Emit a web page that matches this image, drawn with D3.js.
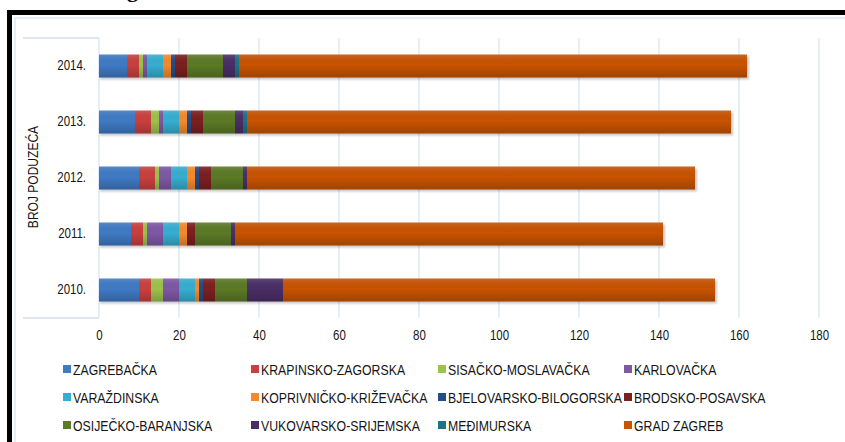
<!DOCTYPE html>
<html>
<head>
<meta charset="utf-8">
<script src="https://cdn.jsdelivr.net/npm/d3@7"></script>
<style>
  body { margin: 0; background: #fff; }
  text { font-family: "Liberation Sans", Arial, sans-serif; fill: #151515; }
</style>
</head>
<body>
<div id="chart"></div>
<script>
// years, bottom to top
const years = ["2010.", "2011.", "2012.", "2013.", "2014."];
const xTicks = [0, 20, 40, 60, 80, 100, 120, 140, 160, 180];

const seriesNames = ["ZAGREBAČKA", "KRAPINSKO-ZAGORSKA", "SISAČKO-MOSLAVAČKA", "KARLOVAČKA",
    "VARAŽDINSKA", "KOPRIVNIČKO-KRIŽEVAČKA", "BJELOVARSKO-BILOGORSKA", "BRODSKO-POSAVSKA",
    "OSIJEČKO-BARANJSKA", "VUKOVARSKO-SRIJEMSKA", "MEĐIMURSKA", "GRAD ZAGREB"];
const seriesColors = ["#3f7ac4", "#c9403e", "#9cc24b", "#7d58a6", "#36aed0", "#f58a2c",
    "#244c88", "#7c1f1f", "#5b7a26", "#4a2e66", "#1f7185", "#c85300"];

// values per series, in the order of years
const zagrebacka = [10, 8, 10, 9, 7];
const krapinsko = [3, 3, 4, 4, 3];
const sisacko = [3, 1, 1, 2, 1];
const karlovacka = [4, 4, 3, 1, 1];
const varazdinska = [4, 4, 4, 4, 4];
const koprivnicko = [1, 2, 2, 2, 2];
const bjelovarsko = [1, 0, 1, 1, 1];
const brodsko = [3, 2, 3, 3, 3];
const osijecko = [8, 9, 8, 8, 9];
const vukovarsko = [9, 1, 1, 2, 3];
const medimurska = [0, 0, 0, 1, 1];
const gradZagreb = [108, 107, 112, 121, 127];

const seriesValues = [zagrebacka, krapinsko, sisacko, karlovacka, varazdinska, koprivnicko,
    bjelovarsko, brodsko, osijecko, vukovarsko, medimurska, gradZagreb];

const width = 845, height = 442;
const narrow = 0.82; // no narrow font installed, squeeze text instead

const svg = d3.select("#chart").append("svg")
    .attr("width", width)
    .attr("height", height);

// table for the stack
const table = years.map((y, i) => {
    let row = { year: y };
    seriesNames.forEach((s, j) => row[s] = seriesValues[j][i]);
    return row;
});
const stacked = d3.stack().keys(seriesNames)(table);

const x = d3.scaleLinear().domain([0, 180]).range([99, 819]);
const y = d3.scaleBand().domain(years.slice().reverse()).range([38, 318])
    .paddingInner(0.59).paddingOuter(0.295);

// frame
svg.append("rect").attr("x", 15).attr("y", 18).attr("width", 900).attr("height", 500)
    .attr("fill", "none").attr("stroke", "#dde7f3").attr("stroke-width", 1.5);
svg.append("rect").attr("x", 7).attr("y", 10).attr("width", 840).attr("height", 5).attr("fill", "#000");
svg.append("rect").attr("x", 7).attr("y", 10).attr("width", 5).attr("height", 440).attr("fill", "#000");
svg.append("text").attr("x", 127).attr("y", -3)
    .style("font-family", "'Liberation Serif', serif").style("font-weight", "bold")
    .style("font-size", "22px").style("fill", "#000").text("g");

// gridlines
svg.append("g").selectAll("line").data(xTicks).enter().append("line")
    .attr("x1", d => x(d)).attr("x2", d => x(d))
    .attr("y1", 38).attr("y2", 318)
    .attr("stroke", "#dbe4f1").attr("stroke-width", 1.3);

// category axis end ticks
svg.append("g").selectAll("line").data([38, 318]).enter().append("line")
    .attr("x1", 23).attr("x2", x(0))
    .attr("y1", d => d).attr("y2", d => d)
    .attr("stroke", "#d3deec").attr("stroke-width", 1.3);

// shading for bars
const defs = svg.append("defs");
const grad = defs.append("linearGradient").attr("id", "shade")
    .attr("x1", 0).attr("y1", 0).attr("x2", 0).attr("y2", 1);
grad.append("stop").attr("offset", "0%").attr("stop-color", "#fff").attr("stop-opacity", 0.12);
grad.append("stop").attr("offset", "45%").attr("stop-color", "#000").attr("stop-opacity", 0);
grad.append("stop").attr("offset", "100%").attr("stop-color", "#000").attr("stop-opacity", 0.2);
const blur = defs.append("filter").attr("id", "blur");
blur.append("feGaussianBlur").attr("stdDeviation", 1.2);

// shadows
svg.append("g").selectAll("rect").data(table).enter().append("rect")
    .attr("x", x(0) + 1)
    .attr("y", d => y(d.year) + 2)
    .attr("width", (d, i) => x(d3.sum(seriesValues, s => s[i])) - x(0) + 1)
    .attr("height", y.bandwidth())
    .attr("fill", "#000").attr("opacity", 0.22).attr("filter", "url(#blur)");

svg.append("g").selectAll("g").data(stacked).enter().append("g")
    .attr("fill", (d, i) => seriesColors[i])
    .selectAll("rect").data(d => d).enter().append("rect")
    .attr("x", d => x(d[0]))
    .attr("y", d => y(d.data.year))
    .attr("width", d => x(d[1]) - x(d[0]))
    .attr("height", y.bandwidth());

svg.append("g").selectAll("rect").data(table).enter().append("rect")
    .attr("x", x(0))
    .attr("y", d => y(d.year))
    .attr("width", (d, i) => x(d3.sum(seriesValues, s => s[i])) - x(0))
    .attr("height", y.bandwidth())
    .attr("fill", "url(#shade)");

// axes
const xAxis = svg.append("g").attr("transform", "translate(0,318)")
    .call(d3.axisBottom(x).tickValues(xTicks).tickSize(0).tickPadding(12));
xAxis.select(".domain").remove();
xAxis.selectAll("text").style("font-size", "14px").style("fill", "#151515")
    .attr("font-family", null).attr("transform", `scale(${narrow},1)`);

const yAxis = svg.append("g").attr("transform", `translate(${x(0)},0)`)
    .call(d3.axisLeft(y).tickSize(0).tickPadding(13));
yAxis.select(".domain").remove();
yAxis.selectAll("text").style("font-size", "14px").style("fill", "#151515")
    .attr("font-family", null)
    .attr("x", -13 / narrow)
    .attr("transform", `scale(${narrow},1)`);

svg.append("text")
    .attr("transform", `translate(38,177) rotate(-90) scale(0.86,1)`)
    .attr("text-anchor", "middle")
    .style("font-size", "14px")
    .text("BROJ PODUZEĆA");

// legend
const legendX = [63, 251, 438, 624];
const legendY = [369, 397, 425];
const legend = svg.append("g").selectAll("g").data(seriesNames).enter().append("g")
    .attr("transform", (d, i) => `translate(${legendX[i % 4]},${legendY[Math.floor(i / 4)]})`);
legend.append("rect").attr("x", 0).attr("y", -4).attr("width", 8).attr("height", 8)
    .attr("fill", (d, i) => seriesColors[i]);
legend.append("text")
    .attr("transform", `translate(10,5.5) scale(${narrow},1)`)
    .style("font-size", "15px")
    .text(d => d);
</script>
</body>
</html>
